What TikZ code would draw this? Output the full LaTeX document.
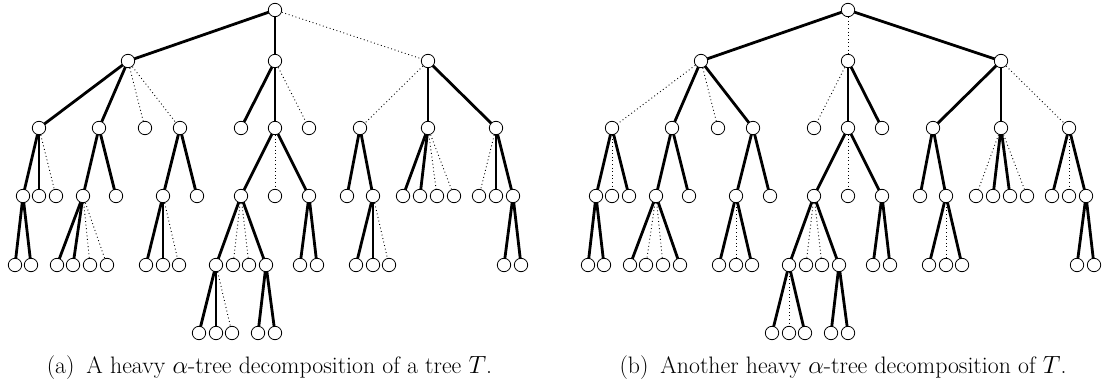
\documentclass[tikz,border=0pt]{standalone}
\usetikzlibrary{backgrounds}
\tikzset{
  vtx/.style={circle, draw, fill=white, line width=0.8pt, inner sep=0pt, minimum size=13.4pt},
  heavy/.style={line width=2.8pt},
  light/.style={line width=0.9pt, dash pattern=on 0.9pt off 2.7pt},
  capt/.style={anchor=base, inner sep=0pt, font=\fontsize{23.8}{28}\selectfont}
}
\newcommand{\treenodes}[2]{%
  \foreach \n/\x/\y in {r/275/10, A/128/61, B/275/61, C/428/61,
    A1/39/128, A2/99/128, A3/145/128, A4/180/128,
    B1/241/128, B2/275/128, B3/309/128,
    C1/360/128, C2/428/128, C3/496/128,
    A1a/23/196, A1b/39/196, A1c/56/196,
    A2a/83/196, A2b/116/196,
    A4a/163/196, A4b/197/196,
    B2a/241/196, B2b/275/196, B2c/309/196,
    C1a/347/196, C1b/373/196,
    C2a/403/196, C2b/420/196, C2c/437/196, C2d/454/196,
    C3a/479/196, C3b/496/196, C3c/513/196,
    A1a1/15/265, A1a2/31/265,
    A2a1/57/265, A2a2/73/265, A2a3/90/265, A2a4/107/265,
    A4a1/146/265, A4a2/163/265, A4a3/179/265,
    B2a1/216/265, B2a2/233/265, B2a3/249/265, B2a4/266/265,
    B2c1/300/265, B2c2/317/265,
    C1b1/356/265, C1b2/373/265, C1b3/389/265,
    C3c1/504/265, C3c2/521/265,
    B2a1a/199/333, B2a1b/216/333, B2a1c/232/333,
    B2a4a/258/333, B2a4b/275/333}
  {\node[vtx] (#1-\n) at (\x+#2,\y) {};}%
}
\begin{document}
\begin{tikzpicture}[x=1pt, y=-1pt]
\useasboundingbox (0,0) rectangle (1103,385);
\treenodes{a}{0}
\treenodes{b}{573}
\begin{scope}[on background layer]
  % tree (a)
  \foreach \u/\v in {r/A, r/B, A/A1, A/A2, A1/A1a, A1/A1b, A1a/A1a1, A1a/A1a2,
    A2/A2a, A2/A2b, A2a/A2a1, A2a/A2a2, A4/A4a, A4/A4b, A4a/A4a1, A4a/A4a2,
    B/B1, B/B2, B2/B2a, B2/B2c, B2a/B2a1, B2a/B2a4, B2a1/B2a1a, B2a1/B2a1b,
    B2a4/B2a4a, B2a4/B2a4b, B2c/B2c1, B2c/B2c2, C/C2, C/C3, C1/C1a, C1/C1b,
    C1b/C1b1, C1b/C1b2, C2/C2a, C2/C2b, C3/C3b, C3/C3c, C3c/C3c1, C3c/C3c2}
    {\draw[heavy] (a-\u.center) -- (a-\v.center);}
  \foreach \u/\v in {r/C, A/A3, A/A4, A1/A1c, A2a/A2a3, A2a/A2a4, A4a/A4a3,
    B/B3, B2/B2b, B2a/B2a2, B2a/B2a3, B2a1/B2a1c, C/C1, C1b/C1b3, C2/C2c,
    C2/C2d, C3/C3a}
    {\draw[light] (a-\u.center) -- (a-\v.center);}
  % tree (b)
  \foreach \u/\v in {r/A, r/C, A/A2, A/A4, A1/A1a, A1/A1c, A1a/A1a1, A1a/A1a2,
    A2/A2a, A2/A2b, A2a/A2a1, A2a/A2a4, A4/A4a, A4/A4b, A4a/A4a1, A4a/A4a3,
    B/B2, B/B3, B2/B2a, B2/B2c, B2a/B2a1, B2a/B2a4, B2a1/B2a1a, B2a1/B2a1c,
    B2a4/B2a4a, B2a4/B2a4b, B2c/B2c1, B2c/B2c2, C/C1, C/C2, C1/C1a, C1/C1b,
    C1b/C1b1, C1b/C1b3, C2/C2b, C2/C2c, C3/C3a, C3/C3c, C3c/C3c1, C3c/C3c2}
    {\draw[heavy] (b-\u.center) -- (b-\v.center);}
  \foreach \u/\v in {r/B, A/A1, A/A3, A1/A1b, A2a/A2a2, A2a/A2a3, A4a/A4a2,
    B/B1, B2/B2b, B2a/B2a2, B2a/B2a3, B2a1/B2a1b, C1b/C1b2, C2/C2a, C2/C2d,
    C3/C3b, C/C3}
    {\draw[light] (b-\u.center) -- (b-\v.center);}
\end{scope}
\node[capt] (capa) at (269.5,373) {(a)\enspace A heavy $\alpha$-tree decomposition of a tree $T$.};
\node[capt] (capb) at (843,373) {(b)\enspace Another heavy $\alpha$-tree decomposition of $T$.};
\end{tikzpicture}
\end{document}
